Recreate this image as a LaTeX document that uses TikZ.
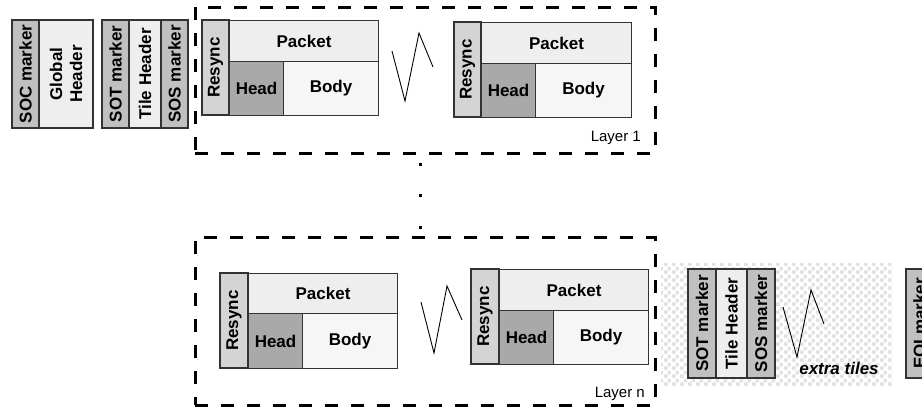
\documentclass[tikz,border=0pt]{standalone}
\usepackage{fontspec}
\setmainfont{Liberation Sans}
\usetikzlibrary{patterns}

\definecolor{markergray}{HTML}{C0C0C0}
\definecolor{resyncgray}{HTML}{D4D4D4}
\definecolor{headgray}{HTML}{A9A9A9}
\definecolor{lightfill}{HTML}{EEEEEE}
\definecolor{bodyfill}{HTML}{F6F6F6}
\definecolor{checkgray}{HTML}{E2E2E2}

\pgfdeclarepatternformonly{checkers}{\pgfpointorigin}{\pgfpoint{8pt}{8pt}}{\pgfpoint{8pt}{8pt}}{%
  \pgfpathrectangle{\pgfpointorigin}{\pgfpoint{4pt}{4pt}}%
  \pgfpathrectangle{\pgfpoint{4pt}{4pt}}{\pgfpoint{4pt}{4pt}}%
  \pgfusepath{fill}}

\tikzset{
  cell/.style={draw=black!80, line width=1.1pt, inner sep=0pt, align=center,
    font=\fontsize{17}{20}\selectfont\bfseries},
  vcell/.style={cell, rotate=90},
  layerframe/.style={line width=3pt, dash pattern=on 13pt off 13pt},
  zigzag/.style={line width=0.9pt},
  layerlabel/.style={inner sep=0pt, font=\fontsize{15}{18}\selectfont},
}

\begin{document}
\begin{tikzpicture}[x=1pt,y=-1pt]
	\useasboundingbox (0,0) rectangle (922,410);
	\clip (0,0) rectangle (922,410);
	% main header and first tile header
	\node[vcell, fill=markergray, minimum width=108, minimum height=27] (soc) at (25.5,74) {SOC marker};
	\node[vcell, fill=lightfill, minimum width=108, minimum height=54] (global) at (66,74) {Global\\Header};
	\node[vcell, fill=markergray, minimum width=108, minimum height=27] (sotA) at (115.5,74) {SOT marker};
	\node[vcell, fill=lightfill, minimum width=108, minimum height=32] (tileA) at (145,74) {Tile Header};
	\node[vcell, fill=markergray, minimum width=108, minimum height=27] (sosA) at (174.5,74) {SOS marker};
	% layer 1
	\draw[layerframe] (195,153) -- (655,153) -- (655,7) -- (195,7) -- cycle;
	\node[vcell, fill=resyncgray, minimum width=95, minimum height=27] (resyncA) at (215.5,67.5) {Resync};
	\node[cell, fill=lightfill, anchor=north west, minimum width=149, minimum height=41] (packetA) at (229,20) {Packet};
	\node[cell, fill=headgray, anchor=north west, minimum width=54, minimum height=54] (headA) at (229,61) {Head};
	\node[cell, fill=bodyfill, anchor=north west, minimum width=95, minimum height=54] (bodyA) at (283,61) {Body};
	\draw[zigzag] (392,51) -- (405,101) -- (419,33) -- (433,67);
	\node[vcell, fill=resyncgray, minimum width=95, minimum height=27] (resyncB) at (467.5,69.5) {Resync};
	\node[cell, fill=lightfill, anchor=north west, minimum width=150, minimum height=41] (packetB) at (481,22) {Packet};
	\node[cell, fill=headgray, anchor=north west, minimum width=54, minimum height=54] (headB) at (481,63) {Head};
	\node[cell, fill=bodyfill, anchor=north west, minimum width=96, minimum height=54] (bodyB) at (535,63) {Body};
	\node[layerlabel, anchor=base east] (layerOne) at (641,141) {Layer 1};
	% dots between layers
	\fill (418.5,162.5) rectangle +(3,3);
	\fill (418.5,193.5) rectangle +(3,3);
	\fill (418.5,225.5) rectangle +(3,3);
	% layer n
	\draw[layerframe] (195,405) -- (655,405) -- (655,237) -- (195,237) -- cycle;
	\node[vcell, fill=resyncgray, minimum width=95, minimum height=28] (resyncC) at (234,320.5) {Resync};
	\node[cell, fill=lightfill, anchor=north west, minimum width=149, minimum height=40] (packetC) at (248,273) {Packet};
	\node[cell, fill=headgray, anchor=north west, minimum width=54, minimum height=55] (headC) at (248,313) {Head};
	\node[cell, fill=bodyfill, anchor=north west, minimum width=95, minimum height=55] (bodyC) at (302,313) {Body};
	\draw[zigzag] (421,302) -- (434,353) -- (447,286) -- (462,320);
	\node[vcell, fill=resyncgray, minimum width=95, minimum height=28] (resyncD) at (485,316.5) {Resync};
	\node[cell, fill=lightfill, anchor=north west, minimum width=149, minimum height=41] (packetD) at (499,269) {Packet};
	\node[cell, fill=headgray, anchor=north west, minimum width=54, minimum height=54] (headD) at (499,310) {Head};
	\node[cell, fill=bodyfill, anchor=north west, minimum width=95, minimum height=54] (bodyD) at (553,310) {Body};
	\node[layerlabel, anchor=base east] (layerN) at (645,397) {Layer n};
	% extra tiles
	\fill[pattern=checkers, pattern color=checkgray] (661,263) rectangle (892,385);
	\node[vcell, fill=markergray, minimum width=109, minimum height=28] (sotB) at (702,323.5) {SOT marker};
	\node[vcell, fill=lightfill, minimum width=109, minimum height=31] (tileB) at (731.5,323.5) {Tile Header};
	\node[vcell, fill=markergray, minimum width=109, minimum height=28] (sosB) at (761,323.5) {SOS marker};
	\draw[zigzag] (783,307) -- (797,357) -- (811,290) -- (824,324);
	\node[inner sep=0pt, anchor=base, font=\fontsize{17}{20}\selectfont\bfseries\itshape] (extra) at (839,374) {extra tiles};
	\node[vcell, fill=markergray, minimum width=109, minimum height=27] (eoi) at (919.5,323.5) {EOI marker};
\end{tikzpicture}
\end{document}
